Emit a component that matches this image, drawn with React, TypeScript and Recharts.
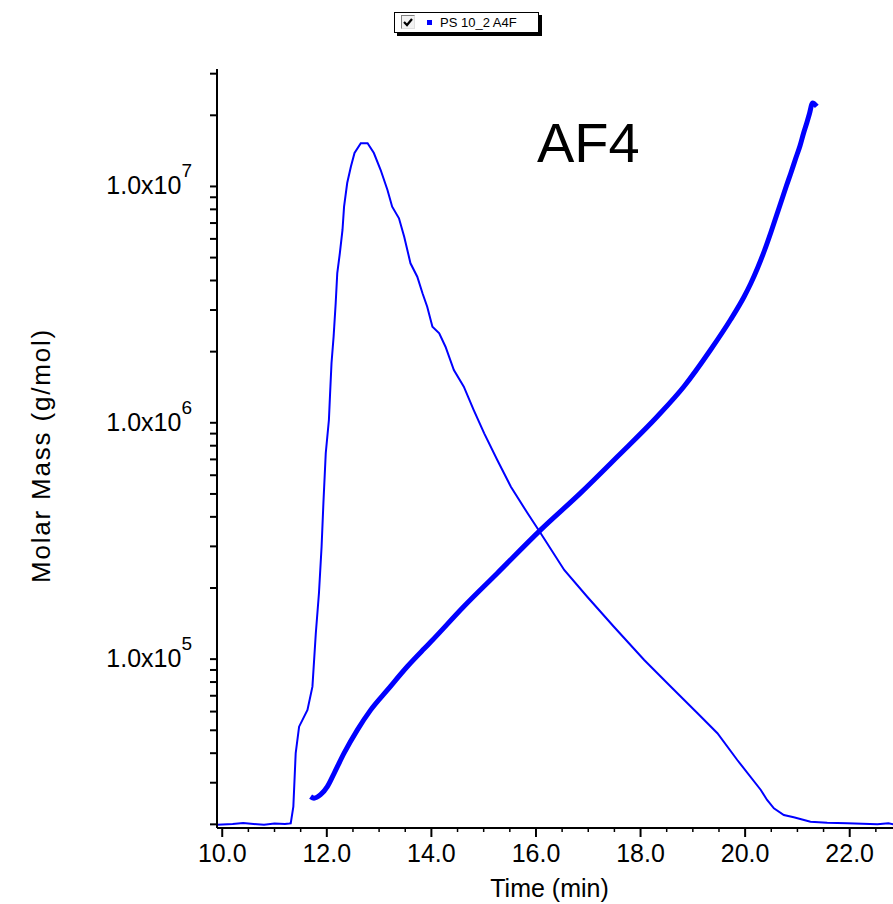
import React from "react";
import { LineChart, Line, XAxis, YAxis } from "recharts";

// detector trace (relative signal, % of plot height) vs. time
const traceTime = [
  9.9, 10.2, 10.4, 10.6, 10.8, 11.0, 11.2, 11.28, 11.31, 11.36, 11.405, 11.47, 11.63, 11.725, 11.79,
  11.85, 11.9, 11.935, 11.98, 12.04, 12.06, 12.09, 12.13, 12.17, 12.2, 12.25, 12.3, 12.33, 12.39,
  12.46, 12.53, 12.65, 12.78, 12.9, 13.03, 13.16, 13.25, 13.38, 13.48, 13.6, 13.73, 13.83, 13.92,
  14.02, 14.15, 14.27, 14.43, 14.62, 14.81, 15.01, 15.26, 15.52, 15.84, 16.09, 16.54, 16.98, 17.49,
  18.07, 18.58, 19.09, 19.47, 19.85, 20.3, 20.42, 20.55, 20.74, 20.93, 21.25, 21.57, 21.95, 22.53,
  22.74, 22.84, 23.0,
];
const traceSignal = [
  0.43, 0.53, 0.66, 0.53, 0.43, 0.59, 0.53, 0.59, 0.62, 2.81, 9.88, 13.35, 15.55, 18.62, 25.69,
  30.96, 37.06, 42.82, 49.41, 53.75, 56.83, 61.26, 64.73, 69.17, 73.12, 75.76, 78.79, 81.86, 84.98,
  87.13, 88.93, 90.21, 90.21, 88.93, 86.69, 84.06, 81.86, 80.33, 77.91, 74.4, 72.63, 70.45, 68.68,
  66.05, 65.18, 63.41, 60.34, 58.14, 55.07, 52.0, 48.48, 44.97, 41.46, 38.83, 33.99, 30.47, 26.52,
  22.13, 18.62, 15.11, 12.48, 8.96, 5.01, 3.69, 2.6, 1.71, 1.41, 0.83, 0.7, 0.62, 0.49,
  0.62, 0.49, 0.5,
];

// molar mass (g/mol) vs. time
const molarTime = [
  11.69, 11.755, 11.88, 12.01, 12.14, 12.33, 12.585, 12.84, 13.16, 13.54, 13.86, 13.99, 14.62,
  15.26, 16.09, 16.85, 17.56, 18.32, 18.83, 19.34, 19.72, 19.98, 20.105, 20.24, 20.375, 20.49,
  20.605, 20.72, 20.79, 20.87, 20.965, 21.05, 21.12, 21.18, 21.23, 21.29, 21.37,
];
const molarMass = [
  26200, 25800, 26700, 28900, 32900, 40000, 50200, 61000, 74100, 93100, 110600, 118400, 167000,
  231000, 352500, 504000, 720000, 1063000, 1424000, 2037000, 2729000, 3415000, 3875000, 4529000,
  5397000, 6370000, 7591000, 9046000, 10070000, 11320000, 13100000, 14870000, 16880000,
  18610000, 20310000, 22540000, 21810000,
];

const xTicks = [
  10, 10.5, 11, 11.5, 12, 12.5, 13, 13.5, 14, 14.5, 15, 15.5, 16, 16.5, 17, 17.5, 18, 18.5, 19,
  19.5, 20, 20.5, 21, 21.5, 22, 22.5,
];
const yTicks = [
  20000, 30000, 40000, 50000, 60000, 70000, 80000, 90000,
  100000, 200000, 300000, 400000, 500000, 600000, 700000, 800000, 900000,
  1000000, 2000000, 3000000, 4000000, 5000000, 6000000, 7000000, 8000000, 9000000,
  10000000, 20000000, 30000000,
];
const seriesName = "PS 10_2 A4F";
const annotation = "AF4";

const traceData = traceTime.map((t, i) => ({ t, v: traceSignal[i] }));
const molarData = molarTime.map((t, i) => ({ t, m: molarMass[i] }));

const FONT = "'Liberation Sans', Arial, Helvetica, sans-serif";
const BLUE = "#0000ff";

function XTick({ x, y, payload }: any) {
  const v = payload.value as number;
  const major = Math.abs(v % 2) < 1e-6;
  return (
    <g>
      <line x1={x} x2={x} y1={y} y2={y + (major ? 9 : 4)} stroke="#000" strokeWidth={major ? 2 : 1.5} />
      {major && (
        <text x={x} y={y + 34} textAnchor="middle" fontSize={25} fontFamily={FONT} fill="#000">
          {v.toFixed(1)}
        </text>
      )}
    </g>
  );
}

function YTick({ x, y, payload }: any) {
  const v = payload.value as number;
  const exp = Math.round(Math.log10(v));
  const decade = Math.abs(Math.log10(v) - exp) < 1e-6;
  return (
    <g>
      <line x1={x - 7} x2={x} y1={y} y2={y} stroke="#000" strokeWidth={2} />
      {decade && (
        <text x={x - 25} y={y + 8} textAnchor="end" fontSize={25} fontFamily={FONT} fill="#000">
          <tspan>1.0x10</tspan>
          <tspan dy={-17} fontSize={19}>{exp}</tspan>
        </text>
      )}
    </g>
  );
}

function YLabel({ viewBox }: any) {
  const cy = viewBox.y + viewBox.height / 2 + 7;
  return (
    <text
      transform={`translate(50, ${cy}) rotate(-90)`}
      x={0}
      y={0}
      textAnchor="middle"
      fontSize={26}
      letterSpacing={1.8}
      fontFamily={FONT}
      fill="#000"
    >
      Molar Mass (g/mol)
    </text>
  );
}

function LegendBox() {
  return (
    <div
      style={{
        position: "absolute",
        left: 394,
        top: 12,
        width: 143,
        height: 19,
        border: "1px solid #000",
        boxShadow: "3px 3px 0 #000",
        background: "#fff",
        fontFamily: FONT,
        fontSize: 13,
        lineHeight: "19px",
      }}
    >
      <div
        style={{
          position: "absolute",
          left: 6,
          top: 2,
          width: 12,
          height: 12,
          borderTop: "1px solid #808080",
          borderLeft: "1px solid #808080",
          borderRight: "1px solid #e0e0e0",
          borderBottom: "1px solid #e0e0e0",
          background: "#f2f2f2",
        }}
      >
        <svg width={12} height={12} style={{ position: "absolute", left: 0, top: 0 }}>
          <path d="M2 6 L5 9 L10 3" stroke="#000" strokeWidth={2.2} fill="none" />
        </svg>
      </div>
      <div style={{ position: "absolute", left: 32, top: 7, width: 5, height: 5, background: BLUE }} />
      <div style={{ position: "absolute", left: 45, top: 0, color: "#000", whiteSpace: "nowrap" }}>{seriesName}</div>
    </div>
  );
}

export default function App() {
  return (
    <div
      style={{
        position: "absolute",
        left: 0,
        top: 0,
        width: 893,
        height: 904,
        overflow: "hidden",
        background: "#fff",
      }}
    >
      <LineChart width={910} height={904} margin={{ top: 69, right: 8, bottom: 0, left: 0 }}>
        <XAxis
          dataKey="t"
          type="number"
          domain={[9.9, 23.0]}
          allowDataOverflow
          ticks={xTicks}
          interval={0}
          tick={<XTick />}
          tickLine={false}
          tickSize={0}
          tickMargin={0}
          height={76}
          axisLine={{ stroke: "#000", strokeWidth: 2 }}
          label={{
            value: "Time (min)",
            position: "insideBottom",
            offset: 7,
            dx: -10,
            fontSize: 25,
            fontFamily: FONT,
            fill: "#000",
          }}
        />
        <XAxis
          xAxisId="top"
          orientation="top"
          type="number"
          domain={[9.9, 23.0]}
          height={0}
          tick={false}
          tickLine={false}
          axisLine={{ stroke: "#000", strokeWidth: 2 }}
        />
        <YAxis
          scale="log"
          type="number"
          domain={[19300, 31400000]}
          allowDataOverflow
          ticks={yTicks}
          interval={0}
          tick={<YTick />}
          tickLine={false}
          tickSize={0}
          tickMargin={0}
          width={217}
          axisLine={{ stroke: "#000", strokeWidth: 2 }}
          label={<YLabel />}
        />
        <YAxis yAxisId="det" type="number" domain={[0, 100]} hide allowDataOverflow />
        <Line
          data={traceData}
          dataKey="v"
          yAxisId="det"
          type="linear"
          stroke={BLUE}
          strokeWidth={2}
          dot={false}
          isAnimationActive={false}
        />
        <Line
          data={molarData}
          dataKey="m"
          type="monotone"
          stroke={BLUE}
          strokeWidth={5}
          dot={false}
          isAnimationActive={false}
        />
        <text x={537} y={162} fontSize={56} fontFamily={FONT} fill="#000">
          {annotation}
        </text>
      </LineChart>
      <LegendBox />
    </div>
  );
}
